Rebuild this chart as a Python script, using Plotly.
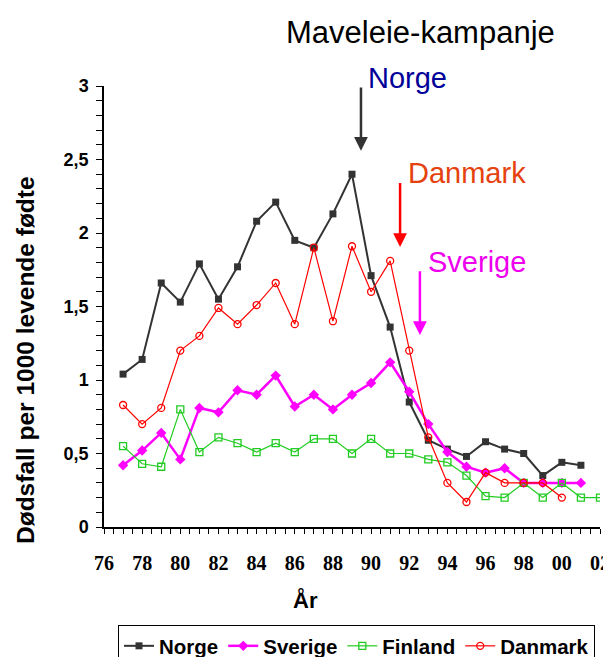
import plotly.graph_objects as go

years = list(range(77, 103))
tick_vals = list(range(76, 103, 2))
tick_text = ["76", "78", "80", "82", "84", "86", "88", "90", "92", "94", "96", "98", "00", "02"]

norge = [1.04, 1.14, 1.66, 1.53, 1.79, 1.55, 1.77, 2.08, 2.21, 1.95, 1.90, 2.13, 2.40,
         1.71, 1.36, 0.85, 0.59, 0.53, 0.48, 0.58, 0.53, 0.50, 0.35, 0.44, 0.42]
sverige = [0.42, 0.52, 0.64, 0.46, 0.81, 0.78, 0.93, 0.90, 1.03, 0.82, 0.90, 0.80, 0.90,
           0.98, 1.12, 0.92, 0.70, 0.51, 0.41, 0.37, 0.40, 0.30, 0.30, 0.30, 0.30]
finland = [0.55, 0.43, 0.41, 0.80, 0.51, 0.61, 0.57, 0.51, 0.57, 0.51, 0.60, 0.60, 0.50,
           0.60, 0.50, 0.50, 0.46, 0.44, 0.35, 0.21, 0.20, 0.30, 0.20, 0.30, 0.20, 0.20]
danmark = [0.83, 0.70, 0.81, 1.20, 1.30, 1.49, 1.38, 1.51, 1.66, 1.38, 1.90, 1.40, 1.91,
           1.60, 1.81, 1.20, 0.61, 0.30, 0.17, 0.37, 0.30, 0.30, 0.30, 0.20]

SANS = "Liberation Sans, Arial, sans-serif"
SERIF = "Liberation Serif, Times New Roman, serif"

# the page body has an 8px margin; the figure starts at (8, 8) of the window
OFF = 8
W, H = 611 - OFF, 657 - OFF
# plot area in window pixels: x 104..600, y 86..527
PL, PR, PT, PB = 104, 600, 86, 527
def px(x):
    return (x - PL) / (PR - PL)
def py(y):
    return (PB - y) / (PB - PT)

fig = go.Figure()
fig.add_trace(go.Scatter(x=years[:len(norge)], y=norge, name="Norge", mode="lines+markers",
                         line=dict(color="#333333", width=2),
                         marker=dict(symbol="square", size=7, color="#333333")))
fig.add_trace(go.Scatter(x=years[:len(sverige)], y=sverige, name="Sverige", mode="lines+markers",
                         line=dict(color="#ff00ff", width=2.5),
                         marker=dict(symbol="diamond", size=8, color="#ff00ff")))
fig.add_trace(go.Scatter(x=years[:len(finland)], y=finland, name="Finland", mode="lines+markers",
                         line=dict(color="#22cc22", width=1.2),
                         marker=dict(symbol="square-open", size=7, color="#22cc22", line=dict(width=1.3))))
fig.add_trace(go.Scatter(x=years[:len(danmark)], y=danmark, name="Danmark", mode="lines+markers",
                         line=dict(color="#ff0000", width=1.2),
                         marker=dict(symbol="circle-open", size=7, color="#ff0000", line=dict(width=1.3))))

annotations = [
    dict(text="Maveleie-kampanje", xref="paper", yref="paper", x=px(420), y=py(32),
         showarrow=False, font=dict(family=SANS, size=31, color="black"), xanchor="center", yanchor="middle"),
    dict(text="Norge", xref="paper", yref="paper", x=px(366), y=py(78),
         showarrow=False, font=dict(family=SANS, size=29, color="#000099"), xanchor="left", yanchor="middle"),
    dict(text="Danmark", xref="paper", yref="paper", x=px(406), y=py(173),
         showarrow=False, font=dict(family=SANS, size=29, color="#e5420f"), xanchor="left", yanchor="middle"),
    dict(text="Sverige", xref="paper", yref="paper", x=px(426), y=py(262),
         showarrow=False, font=dict(family=SANS, size=29, color="#ee00ee"), xanchor="left", yanchor="middle"),
    dict(text="", x=89.47, y=2.56, ax=89.47, ay=3.0, xref="x", yref="y", axref="x", ayref="y",
         showarrow=True, arrowhead=2, arrowsize=1.1, arrowwidth=2.5, arrowcolor="#333333"),
    dict(text="", x=91.52, y=1.905, ax=91.52, ay=2.35, xref="x", yref="y", axref="x", ayref="y",
         showarrow=True, arrowhead=2, arrowsize=1.1, arrowwidth=2.5, arrowcolor="#ff0000"),
    dict(text="", x=92.56, y=1.306, ax=92.56, ay=1.75, xref="x", yref="y", axref="x", ayref="y",
         showarrow=True, arrowhead=2, arrowsize=1.1, arrowwidth=2.5, arrowcolor="#ff00ff"),
    dict(text="Dødsfall per 1000 levende fødte", xref="paper", yref="paper", x=px(25),
         y=py(360), showarrow=False, textangle=-90,
         font=dict(family=SANS, size=24.5, color="black", weight="bold"), xanchor="center", yanchor="middle"),
    dict(text="År", xref="paper", yref="paper", x=px(305), y=py(600),
         showarrow=False, font=dict(family=SANS, size=22, color="black", weight="bold"),
         xanchor="center", yanchor="middle"),
]

fig.update_layout(
    width=W, height=H,
    margin=dict(l=PL - OFF, r=W - (PR - OFF), t=PT - OFF, b=H - (PB - OFF), autoexpand=False),
    paper_bgcolor="white", plot_bgcolor="white",
    separators=", ",
    showlegend=True,
    legend=dict(orientation="h", x=px(118), y=py(625), xanchor="left", yanchor="top",
                bordercolor="black", borderwidth=1, font=dict(family=SANS, size=20.5, color="black", weight="bold"),
                itemwidth=30, tracegroupgap=0),
    annotations=annotations,
    xaxis=dict(range=[76, 102], tickvals=tick_vals, ticktext=tick_text, showgrid=False, zeroline=False,
               showline=True, linecolor="black", linewidth=1.5, ticks="outside", ticklen=5, tickcolor="black",
               ticklabelstandoff=12, automargin=False, ticklabeloverflow="allow",
               tickfont=dict(family=SERIF, size=20, color="black", weight="bold"),
               minor=dict(dtick=0.5, tick0=76, ticks="outside", ticklen=5, tickcolor="black")),
    yaxis=dict(range=[0, 3], dtick=0.5, showgrid=False, zeroline=False,
               showline=True, linecolor="black", linewidth=1.5, ticks="outside", ticklen=6, tickcolor="black",
               ticklabelstandoff=4, automargin=False,
               tickfont=dict(family=SANS, size=18, color="black", weight="bold"),
               minor=dict(dtick=0.1, ticks="outside", ticklen=6, tickcolor="black")),
)

fig.write_html("out.html")
